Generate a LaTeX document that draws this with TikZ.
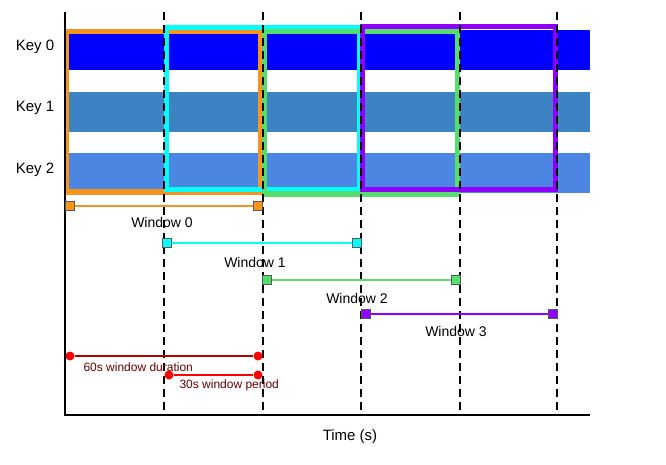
\documentclass[tikz,border=0pt]{standalone}
\usepackage{fontspec}
\setmainfont{Liberation Sans}
\usetikzlibrary{positioning}
\definecolor{keyzero}{RGB}{0,0,255}
\definecolor{keyone}{RGB}{61,131,196}
\definecolor{keytwo}{RGB}{74,134,226}
\definecolor{winorange}{RGB}{247,148,30}
\definecolor{wincyan}{RGB}{0,255,255}
\definecolor{wingreen}{RGB}{85,221,110}
\definecolor{winpurple}{RGB}{144,0,255}
\begin{document}
\begin{tikzpicture}[
    x=1pt, y=-1pt,
    band/.style={draw=none, inner sep=0pt, minimum height=40pt, minimum width=525pt, anchor=north west},
    winbox/.style={draw, line width=5pt},
    tick/.style={draw=black, line width=1.8pt, dash pattern=on 8pt off 5pt},
    endsq/.style={rectangle, draw=gray!70!black, minimum size=9pt, inner sep=0pt},
    enddot/.style={circle, fill=red, minimum size=9pt, inner sep=0pt},
    bar/.style={line width=2pt},
    keylabel/.style={font=\fontsize{15}{17}\selectfont},
    winlabel/.style={font=\fontsize{14}{16}\selectfont},
    notelabel/.style={font=\fontsize{12}{14}\selectfont, text=red!40!black}
]
    \useasboundingbox (0,0) rectangle (666,465);

    % key rows
    \node[band, fill=keyzero] (k0) at (65,30) {};
    \node[band, fill=keyone] (k1) at (65,92) {};
    \node[band, fill=keytwo] (k2) at (65,153) {};
    \node[keylabel] (l0) at (35,47) {Key 0};
    \node[keylabel] (l1) at (35,108) {Key 1};
    \node[keylabel] (l2) at (35,170) {Key 2};

    % windows
    \draw[winbox, winorange] (66,32) rectangle (260,192);
    \draw[winbox, wincyan] (166,28) rectangle (359,190);
    \draw[winbox, wingreen] (264,32) rectangle (457,194);
    \draw[winbox, winpurple] (362,27) rectangle (555,190);

    % time ticks
    \foreach \x in {164,263,361,460,557}
        \draw[tick] (\x,12) -- (\x,415);

    % axes
    \coordinate (top) at (65,12);
    \coordinate (origin) at (65,415);
    \coordinate (xend) at (590,415);
    \draw[line width=1.8pt] (top) -- (origin) -- (xend);
    \node[keylabel] (time) at (350,437) {Time (s)};

    % window intervals
    \node[endsq, fill=winorange] (w0a) at (70,206) {};
    \node[endsq, fill=winorange] (w0b) at (258,206) {};
    \draw[bar, winorange] (w0a) -- (w0b);
    \node[winlabel] (w0) at (162,222) {Window 0};

    \node[endsq, fill=wincyan] (w1a) at (167,243) {};
    \node[endsq, fill=wincyan] (w1b) at (357,243) {};
    \draw[bar, wincyan] (w1a) -- (w1b);
    \node[winlabel] (w1) at (255,262) {Window 1};

    \node[endsq, fill=wingreen] (w2a) at (267,280) {};
    \node[endsq, fill=wingreen] (w2b) at (456,280) {};
    \draw[bar, wingreen] (w2a) -- (w2b);
    \node[winlabel] (w2) at (357,298) {Window 2};

    \node[endsq, fill=winpurple] (w3a) at (366,314) {};
    \node[endsq, fill=winpurple] (w3b) at (553,314) {};
    \draw[bar, winpurple] (w3a) -- (w3b);
    \node[winlabel] (w3) at (456,331) {Window 3};

    % duration and period
    \node[enddot] (da) at (70,356) {};
    \node[enddot] (db) at (258,356) {};
    \draw[bar, red!70!black] (da) -- (db);
    \node[notelabel, anchor=west] (dur) at (80,367) {60s window duration};

    \node[enddot] (pa) at (169,375) {};
    \node[enddot] (pb) at (258,375) {};
    \draw[bar, red] (pa) -- (pb);
    \node[notelabel, anchor=west] (per) at (176,385) {30s window period};
\end{tikzpicture}
\end{document}
